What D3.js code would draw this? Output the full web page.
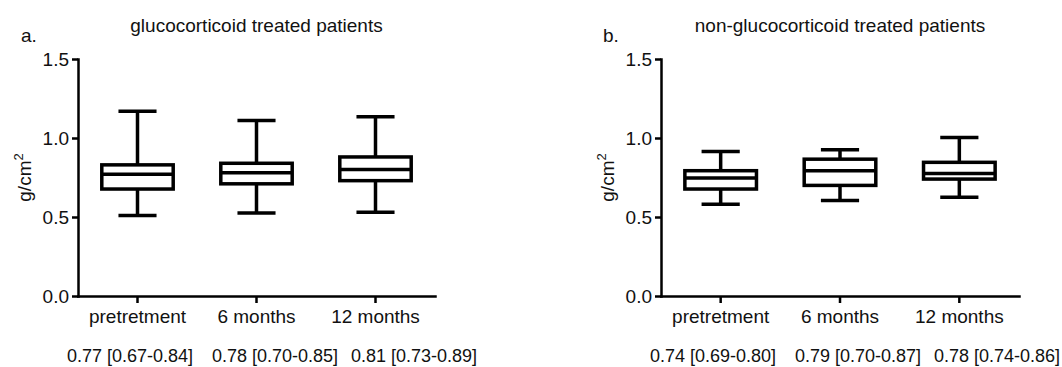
<!DOCTYPE html>
<html>
<head>
<meta charset="utf-8">
<script src="https://cdn.jsdelivr.net/npm/d3@7"></script>
<style>
  body { margin: 0; background: #fff; }
  svg text { font-family: 'Liberation Sans', Arial, sans-serif; fill: #111; }
  .axis path, .axis line { stroke: #000; stroke-width: 2.5px; }
  .axis text { font-size: 19px; fill: #111; }
</style>
</head>
<body>
<script>
const width = 1062;
const height = 367;

// data
const categories = ['pretretment', '6 months', '12 months'];
const yTicks = [0, 0.5, 1.0, 1.5];

const gcMin = [0.51, 0.525, 0.53];
const gcQ1 = [0.677, 0.71, 0.73];
const gcMedian = [0.77, 0.78, 0.80];
const gcQ3 = [0.83, 0.84, 0.88];
const gcMax = [1.17, 1.11, 1.135];
const gcStats = ['0.77 [0.67-0.84]', '0.78 [0.70-0.85]', '0.81 [0.73-0.89]'];

const ngcMin = [0.58, 0.605, 0.625];
const ngcQ1 = [0.677, 0.70, 0.74];
const ngcMedian = [0.747, 0.793, 0.775];
const ngcQ3 = [0.793, 0.866, 0.846];
const ngcMax = [0.914, 0.925, 1.003];
const ngcStats = ['0.74 [0.69-0.80]', '0.79 [0.70-0.87]', '0.78 [0.74-0.86]'];

const svg = d3.select('body')
              .append('svg')
              .attr('width', width)
              .attr('height', height)

function drawPanel(x0, x1, letter, letterX, title, mins, q1s, meds, q3s, maxs, stats) {
  const boxes = categories.map((c, i) => ({
    cat: c, min: mins[i], q1: q1s[i], med: meds[i], q3: q3s[i], max: maxs[i]
  }))

  const xScale = d3.scaleBand()
                   .domain(categories)
                   .range([x0, x1])
                   .padding(0)
  const yScale = d3.scaleLinear()
                   .domain([0, 1.5])
                   .range([296, 59])

  svg.append('g')
     .attr('class', 'axis')
     .attr('transform', `translate(0,${yScale(0)})`)
     .call(d3.axisBottom(xScale).tickSize(7).tickSizeOuter(0).tickPadding(6.5))

  svg.append('g')
     .attr('class', 'axis')
     .attr('transform', `translate(${x0},0)`)
     .call(d3.axisLeft(yScale).tickValues(yTicks).tickFormat(d3.format('.1f'))
             .tickSize(6).tickSizeOuter(0).tickPadding(3))

  svg.selectAll('.axis .domain').attr('stroke-linecap', 'square')

  const bw = xScale.bandwidth() * 0.6;
  const cw = xScale.bandwidth() * 0.32;
  const g = svg.append('g')
               .attr('stroke', '#000')
               .attr('stroke-width', 3.5)
               .attr('fill', 'none')

  const box = g.selectAll('g.box')
               .data(boxes)
               .enter()
               .append('g')
               .attr('class', 'box')
  const cx = d => xScale(d.cat) + xScale.bandwidth() / 2;

  // whiskers
  box.append('line')
     .attr('x1', cx).attr('x2', cx)
     .attr('y1', d => yScale(d.max)).attr('y2', d => yScale(d.q3))
  box.append('line')
     .attr('x1', cx).attr('x2', cx)
     .attr('y1', d => yScale(d.q1)).attr('y2', d => yScale(d.min))
  box.append('line')
     .attr('x1', d => cx(d) - cw / 2).attr('x2', d => cx(d) + cw / 2)
     .attr('y1', d => yScale(d.max)).attr('y2', d => yScale(d.max))
  box.append('line')
     .attr('x1', d => cx(d) - cw / 2).attr('x2', d => cx(d) + cw / 2)
     .attr('y1', d => yScale(d.min)).attr('y2', d => yScale(d.min))
  box.append('rect')
     .attr('x', d => cx(d) - bw / 2)
     .attr('width', bw)
     .attr('y', d => yScale(d.q3))
     .attr('height', d => yScale(d.q1) - yScale(d.q3))
     .attr('fill', '#fff')
  box.append('line')
     .attr('x1', d => cx(d) - bw / 2).attr('x2', d => cx(d) + bw / 2)
     .attr('y1', d => yScale(d.med)).attr('y2', d => yScale(d.med))

  svg.append('text')
     .text(title)
     .attr('x', (x0 + x1) / 2)
     .attr('y', 32)
     .attr('text-anchor', 'middle')
     .style('font-size', '19px')

  svg.append('text')
     .text(letter)
     .attr('x', letterX)
     .attr('y', 42)
     .style('font-size', '19px')

  const yl = svg.append('text')
     .attr('transform', `translate(${x0 - 47},${yScale(0.75)}) rotate(-90)`)
     .attr('text-anchor', 'middle')
     .style('font-size', '19px')
  yl.append('tspan').text('g/cm')
  yl.append('tspan').text('2').attr('dy', -8).style('font-size', '13px')

  const statOffsets = [-11, 134, 273];
  svg.selectAll(null)
     .data(stats)
     .enter()
     .append('text')
     .text(d => d)
     .attr('x', (d, i) => x0 + statOffsets[i])
     .attr('y', 362)
     .style('font-size', '18px')
}

drawPanel(78, 435, 'a.', 21, 'glucocorticoid treated patients',
  gcMin, gcQ1, gcMedian, gcQ3, gcMax, gcStats)
drawPanel(661, 1019, 'b.', 603, 'non-glucocorticoid treated patients',
  ngcMin, ngcQ1, ngcMedian, ngcQ3, ngcMax, ngcStats)
</script>
</body>
</html>
